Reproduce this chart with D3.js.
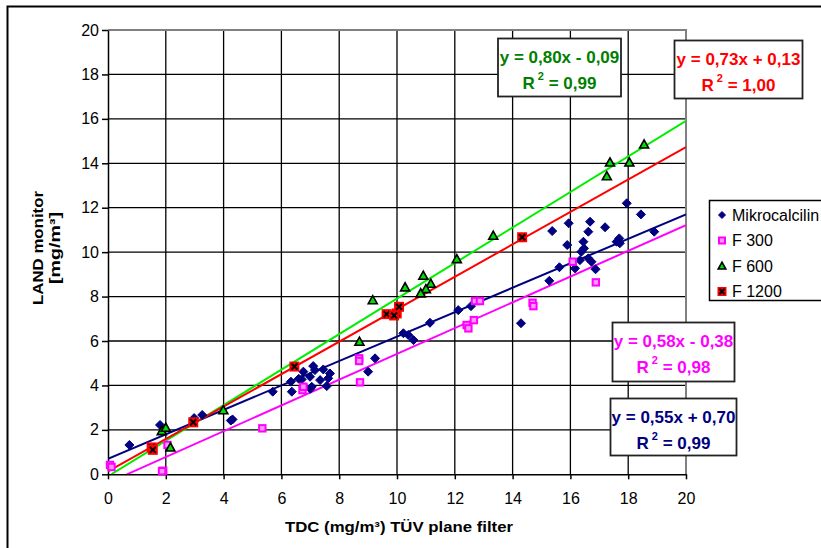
<!DOCTYPE html>
<html>
<head>
<meta charset="utf-8">
<script src="https://cdnjs.cloudflare.com/ajax/libs/d3/7.8.5/d3.min.js"></script>
<style>
  body { margin: 0; background: #fff; }
  svg { display: block; font-family: Arial, "Liberation Sans", sans-serif; }
</style>
</head>
<body>
<div id="chart"></div>
<script>
// Data: [TDC, LAND monitor] pairs per series
var mikroPoints = [
  [0.74, 1.32], [1.8, 2.22], [2.98, 2.53], [3.26, 2.67], [4.31, 2.47], [4.25, 2.42],
  [5.7, 3.72], [6.33, 4.17], [6.36, 3.72], [6.6, 4.3], [6.76, 4.62], [6.7, 4.27],
  [7.05, 3.94], [7.0, 3.85], [7.1, 4.87], [7.16, 4.69], [7.34, 4.24], [7.45, 4.72],
  [7.68, 4.54], [7.62, 4.32], [7.57, 3.97], [6.99, 4.39], [9.24, 5.22], [9.0, 4.62],
  [10.22, 6.35], [10.39, 6.27], [10.57, 6.04], [11.14, 6.82], [12.12, 7.39], [12.56, 7.57],
  [14.29, 6.8], [15.27, 8.71], [15.62, 9.32], [16.16, 9.27], [16.33, 9.64], [16.62, 9.72],
  [16.73, 9.57], [16.87, 9.23], [16.38, 10.02], [16.47, 10.17], [16.45, 10.47], [15.89, 10.32],
  [17.6, 10.47], [17.69, 10.62], [17.71, 10.4], [18.9, 10.92], [15.37, 10.95], [16.62, 10.92],
  [17.2, 11.12], [15.94, 11.3], [16.68, 11.37], [17.95, 12.2], [18.44, 11.7]
];
var f300Points = [
  [0.07, 0.42], [0.12, 0.33], [1.91, 0.16], [1.87, 0.14], [2.06, 1.32], [5.34, 2.07],
  [6.73, 3.79], [6.76, 3.94], [8.69, 5.22], [8.69, 5.1], [8.72, 4.14], [12.41, 6.72],
  [12.47, 6.57], [12.66, 6.94], [12.7, 7.8], [12.87, 7.8], [14.69, 7.72], [14.72, 7.57],
  [16.08, 9.57], [16.88, 8.64]
];
var f600Points = [
  [1.86, 1.95], [2.0, 2.1], [2.16, 1.21], [3.99, 2.89], [8.7, 5.97], [9.16, 7.84],
  [10.28, 8.42], [10.91, 8.94], [11.17, 8.58], [11.0, 8.34], [10.82, 8.15], [12.07, 9.69],
  [13.33, 10.74], [17.26, 13.42], [17.37, 14.04], [18.04, 14.04], [18.55, 14.85]
];
var f1200Points = [
  [1.51, 1.21], [1.55, 1.1], [2.95, 2.34], [6.45, 4.85], [9.64, 7.21], [9.99, 7.24],
  [9.9, 7.15], [10.07, 7.54], [14.33, 10.67]
];

var seriesNames = ["Mikrocalcilin", "F 300", "F 600", "F 1200"];

// Trendline coefficients and R² as printed in the boxes
var slopes = [0.55, 0.58, 0.80, 0.73];
var intercepts = [0.70, -0.38, -0.09, 0.13];
var rSquared = [0.99, 0.98, 0.99, 1.00];

var xTicks = [0, 2, 4, 6, 8, 10, 12, 14, 16, 18, 20];
var yTicks = [0, 2, 4, 6, 8, 10, 12, 14, 16, 18, 20];

// Set up chart
var svgWidth = 821;
var svgHeight = 548;

var margin = { top: 30, left: 108 };
var width = 578;
var height = 444.3;

var svg = d3.select("#chart")
  .append("svg")
  .attr("width", svgWidth)
  .attr("height", svgHeight);

// outer frame (runs off the right and bottom edges)
svg.append("rect")
  .attr("x", 7.5)
  .attr("y", 6.5)
  .attr("width", 900)
  .attr("height", 600)
  .attr("fill", "#fff")
  .attr("stroke", "#000")
  .attr("stroke-width", 2);

var chartGroup = svg.append("g")
  .attr("transform", `translate(${margin.left}, ${margin.top})`);

var xLinearScale = d3.scaleLinear().domain([0, 20]).range([0, width]);
var yLinearScale = d3.scaleLinear().domain([0, 20]).range([height, 0]);

// gridlines
chartGroup.append("g")
  .selectAll("line")
  .data(yTicks.slice(1, -1))
  .enter()
  .append("line")
  .attr("x1", 0)
  .attr("x2", width)
  .attr("y1", d => yLinearScale(d))
  .attr("y2", d => yLinearScale(d))
  .attr("stroke", "#000")
  .attr("stroke-width", 1.3);

chartGroup.append("g")
  .selectAll("line")
  .data(xTicks.slice(1, -1))
  .enter()
  .append("line")
  .attr("y1", 0)
  .attr("y2", height)
  .attr("x1", d => xLinearScale(d))
  .attr("x2", d => xLinearScale(d))
  .attr("stroke", "#000")
  .attr("stroke-width", 1.3);

// gray top / right border of the plot area
chartGroup.append("path")
  .attr("d", `M0,0H${width}V${height}`)
  .attr("fill", "none")
  .attr("stroke", "#808080")
  .attr("stroke-width", 2);

// axes
var bottomAxis = d3.axisBottom(xLinearScale)
  .tickValues(xTicks)
  .tickSizeInner(5)
  .tickSizeOuter(0)
  .tickPadding(13);
var leftAxis = d3.axisLeft(yLinearScale)
  .tickValues(yTicks)
  .tickSizeInner(6)
  .tickSizeOuter(0)
  .tickPadding(3);

var xAxis = chartGroup.append("g")
  .attr("transform", `translate(0, ${height})`)
  .call(bottomAxis);
var yAxis = chartGroup.append("g")
  .call(leftAxis);

[xAxis, yAxis].forEach(function(ax) {
  ax.selectAll("path, line").attr("stroke", "#000").attr("stroke-width", 1.5);
  ax.selectAll("text")
    .attr("fill", "#000")
    .style("font-size", "16px")
    .style("font-family", "Arial, 'Liberation Sans', sans-serif");
});

// trendlines, clipped to the plot area
svg.append("clipPath")
  .attr("id", "plotClip")
  .append("rect")
  .attr("width", width)
  .attr("height", height);

var lineColors = ["#000080", "#ff00ff", "#00ee00", "#ff0000"];

var trendGroup = chartGroup.append("g").attr("clip-path", "url(#plotClip)");
slopes.forEach(function(m, i) {
  var b = intercepts[i];
  var x0 = Math.max(0, -b / m);
  trendGroup.append("line")
    .attr("x1", xLinearScale(x0))
    .attr("y1", yLinearScale(m * x0 + b))
    .attr("x2", xLinearScale(20))
    .attr("y2", yLinearScale(m * 20 + b))
    .attr("stroke", lineColors[i])
    .attr("stroke-width", 2);
});

// marker drawers
function drawDiamond(g, s) {
  g.append("path")
    .attr("d", `M0,${-s}L${s},0L0,${s}L${-s},0Z`)
    .attr("fill", "#000080")
    .attr("stroke", "#000080")
    .attr("stroke-width", 1);
}
function drawPinkSquare(g, s) {
  g.append("rect")
    .attr("x", -s).attr("y", -s)
    .attr("width", 2 * s).attr("height", 2 * s)
    .attr("fill", "#ff99ff")
    .attr("stroke", "#ff00ff")
    .attr("stroke-width", 2);
}
function drawTriangle(g, s) {
  g.append("path")
    .attr("d", `M0,${-s}L${s},${s * 0.8}L${-s},${s * 0.8}Z`)
    .attr("fill", "#00dd00")
    .attr("stroke", "#000")
    .attr("stroke-width", 1.6);
}
function drawRedCross(g, s) {
  g.append("rect")
    .attr("x", -s).attr("y", -s)
    .attr("width", 2 * s).attr("height", 2 * s)
    .attr("fill", "#ff0000");
  var c = s * 0.6;
  g.append("path")
    .attr("d", `M${-c},${-c}L${c},${c}M${c},${-c}L${-c},${c}`)
    .attr("stroke", "#000")
    .attr("stroke-width", 2);
}

var markerFns = [drawDiamond, drawPinkSquare, drawTriangle, drawRedCross];
var markerSizes = [4.5, 3.2, 4.5, 5];
var allSeries = [mikroPoints, f300Points, f600Points, f1200Points];

allSeries.forEach(function(points, i) {
  chartGroup.append("g")
    .selectAll("g")
    .data(points)
    .enter()
    .append("g")
    .attr("transform", d => `translate(${xLinearScale(d[0])}, ${yLinearScale(d[1])})`)
    .each(function() {
      markerFns[i](d3.select(this), markerSizes[i]);
    });
});

// axis titles (stretched to the width they have in the original)
svg.append("text")
  .attr("x", 399)
  .attr("y", 532)
  .attr("text-anchor", "middle")
  .attr("textLength", 228)
  .attr("lengthAdjust", "spacingAndGlyphs")
  .style("font-size", "15px")
  .style("font-weight", "bold")
  .text("TDC (mg/m³) TÜV plane filter");

var yTitle = svg.append("g")
  .attr("transform", "translate(0, 248) rotate(-90)");
yTitle.append("text")
  .attr("x", 0).attr("y", 42.5)
  .attr("text-anchor", "middle")
  .attr("textLength", 114)
  .attr("lengthAdjust", "spacingAndGlyphs")
  .style("font-size", "15px")
  .style("font-weight", "bold")
  .text("LAND monitor");
yTitle.append("text")
  .attr("x", 0).attr("y", 59.5)
  .attr("text-anchor", "middle")
  .attr("textLength", 72)
  .attr("lengthAdjust", "spacingAndGlyphs")
  .style("font-size", "15px")
  .style("font-weight", "bold")
  .text("[mg/m³]");

// legend (clipped by the right edge of the picture)
var legend = svg.append("g");
legend.append("rect")
  .attr("x", 709.5)
  .attr("y", 200.5)
  .attr("width", 200)
  .attr("height", 100)
  .attr("fill", "#fff")
  .attr("stroke", "#000")
  .attr("stroke-width", 1.5);

var legendSizes = [3.5, 3, 3.8, 4.5];
seriesNames.forEach(function(name, i) {
  var cy = 215 + i * 25.5;
  var mg = legend.append("g").attr("transform", `translate(722, ${cy})`);
  markerFns[i](mg, legendSizes[i]);
  legend.append("text")
    .attr("x", 732)
    .attr("y", cy + 5.8)
    .style("font-size", "16px")
    .text(name);
});

// equation boxes
var textColors = ["#000080", "#ff00ff", "#008000", "#ff0000"];
var boxes = [
  { x: 610.5, y: 398.5, w: 126, h: 57 },
  { x: 612.5, y: 322.5, w: 122, h: 59 },
  { x: 498, y: 38.5, w: 123, h: 58 },
  { x: 674.5, y: 40.5, w: 128, h: 58 }
];

function fmt(v) {
  return d3.format(".2f")(v).replace(".", ",");
}

boxes.forEach(function(bx, i) {
  var g = svg.append("g");
  g.append("rect")
    .attr("x", bx.x).attr("y", bx.y)
    .attr("width", bx.w).attr("height", bx.h)
    .attr("fill", "#fff")
    .attr("stroke", "#222")
    .attr("stroke-width", 1.8);
  var b = intercepts[i];
  var eq = "y = " + fmt(slopes[i]) + "x " + (b < 0 ? "- " : "+ ") + fmt(Math.abs(b));
  g.append("text")
    .attr("x", bx.x + bx.w / 2)
    .attr("y", bx.y + 24)
    .attr("text-anchor", "middle")
    .attr("fill", textColors[i])
    .style("font-size", "17px")
    .style("font-weight", "bold")
    .text(eq);
  var r = g.append("text")
    .attr("x", bx.x + bx.w / 2)
    .attr("y", bx.y + 50)
    .attr("text-anchor", "middle")
    .attr("fill", textColors[i])
    .style("font-size", "17px")
    .style("font-weight", "bold");
  r.append("tspan").text("R");
  r.append("tspan").attr("dx", 3).attr("dy", -9).style("font-size", "11px").text("2");
  r.append("tspan").attr("dy", 9).text(" = " + fmt(rSquared[i]));
});
</script>
</body>
</html>
